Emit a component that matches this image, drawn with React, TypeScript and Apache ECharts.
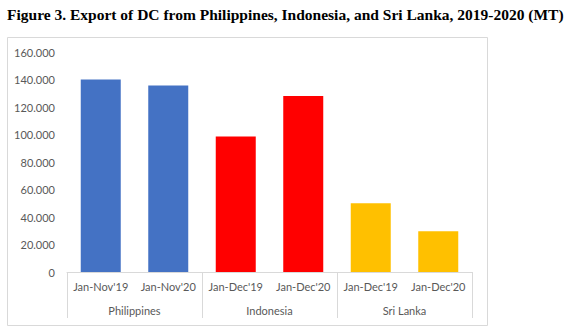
import React, { useEffect, useRef } from "react";
import * as echarts from "echarts";

const categories = ["Jan-Nov'19", "Jan-Nov'20", "Jan-Dec'19", "Jan-Dec'20", "Jan-Dec'19", "Jan-Dec'20"];
const groups = ["Philippines", "Indonesia", "Sri Lanka"];
const values = [140000, 135700, 98600, 128000, 50000, 29700];
const groupOfBar = [0, 0, 1, 1, 2, 2];
const groupColors = ["#4472C4", "#FF0000", "#FFC000"];
const yTicks = { min: 0, max: 160000, interval: 20000 };
const titleText = "Figure 3. Export of DC from Philippines, Indonesia, and Sri Lanka, 2019-2020 (MT)";

const fmt = (v: number) => (v === 0 ? "0" : String(v).replace(/\B(?=(\d{3})+(?!\d))/g, "."));

export default function App() {
  const ref = useRef<HTMLDivElement>(null);
  useEffect(() => {
    if (!ref.current) return;
    const chart = echarts.init(ref.current, undefined, { renderer: "svg" });
    const labelFont = { fontFamily: "Lato", fontSize: 11, color: "#595959" };
    chart.setOption({
      animation: false,
      backgroundColor: "#ffffff",
      title: {
        text: titleText,
        left: 2,
        top: 1,
        textStyle: { fontFamily: "Liberation Serif", fontWeight: "bold", fontSize: 15.5, color: "#000" },
      },
      graphic: [
        {
          type: "rect",
          shape: { x: 7.5, y: 37.5, width: 480, height: 288 },
          style: { fill: "none", stroke: "#d9d9d9", lineWidth: 1 },
          silent: true,
        },
      ],
      grid: { left: 67, right: 102, top: 52, bottom: 63, containLabel: false },
      xAxis: [
        {
          type: "category",
          data: categories,
          position: "bottom",
          offset: 0,
          axisLine: { show: true, lineStyle: { color: "#d9d9d9", width: 1 } },
          axisTick: { show: false },
          axisLabel: { ...labelFont, margin: 9, interval: 0 },
        },
        {
          type: "category",
          data: groups,
          position: "bottom",
          offset: 0,
          axisLine: { show: false },
          axisTick: { show: true, length: 46, lineStyle: { color: "#d9d9d9", width: 1 } },
          axisLabel: { ...labelFont, margin: 33, interval: 0 },
        },
      ],
      yAxis: {
        type: "value",
        min: yTicks.min,
        max: yTicks.max,
        interval: yTicks.interval,
        axisLine: { show: false },
        axisTick: { show: false },
        splitLine: { show: false },
        axisLabel: { ...labelFont, margin: 12, formatter: (v: number) => fmt(v) },
      },
      series: [
        {
          type: "bar",
          xAxisIndex: 0,
          barWidth: 40,
          data: values.map((v, i) => ({ value: v, itemStyle: { color: groupColors[groupOfBar[i]] } })),
        },
      ],
    });
    return () => chart.dispose();
  }, []);
  return <div ref={ref} style={{ position: "absolute", left: 0, top: 0, width: 574, height: 335 }} />;
}
